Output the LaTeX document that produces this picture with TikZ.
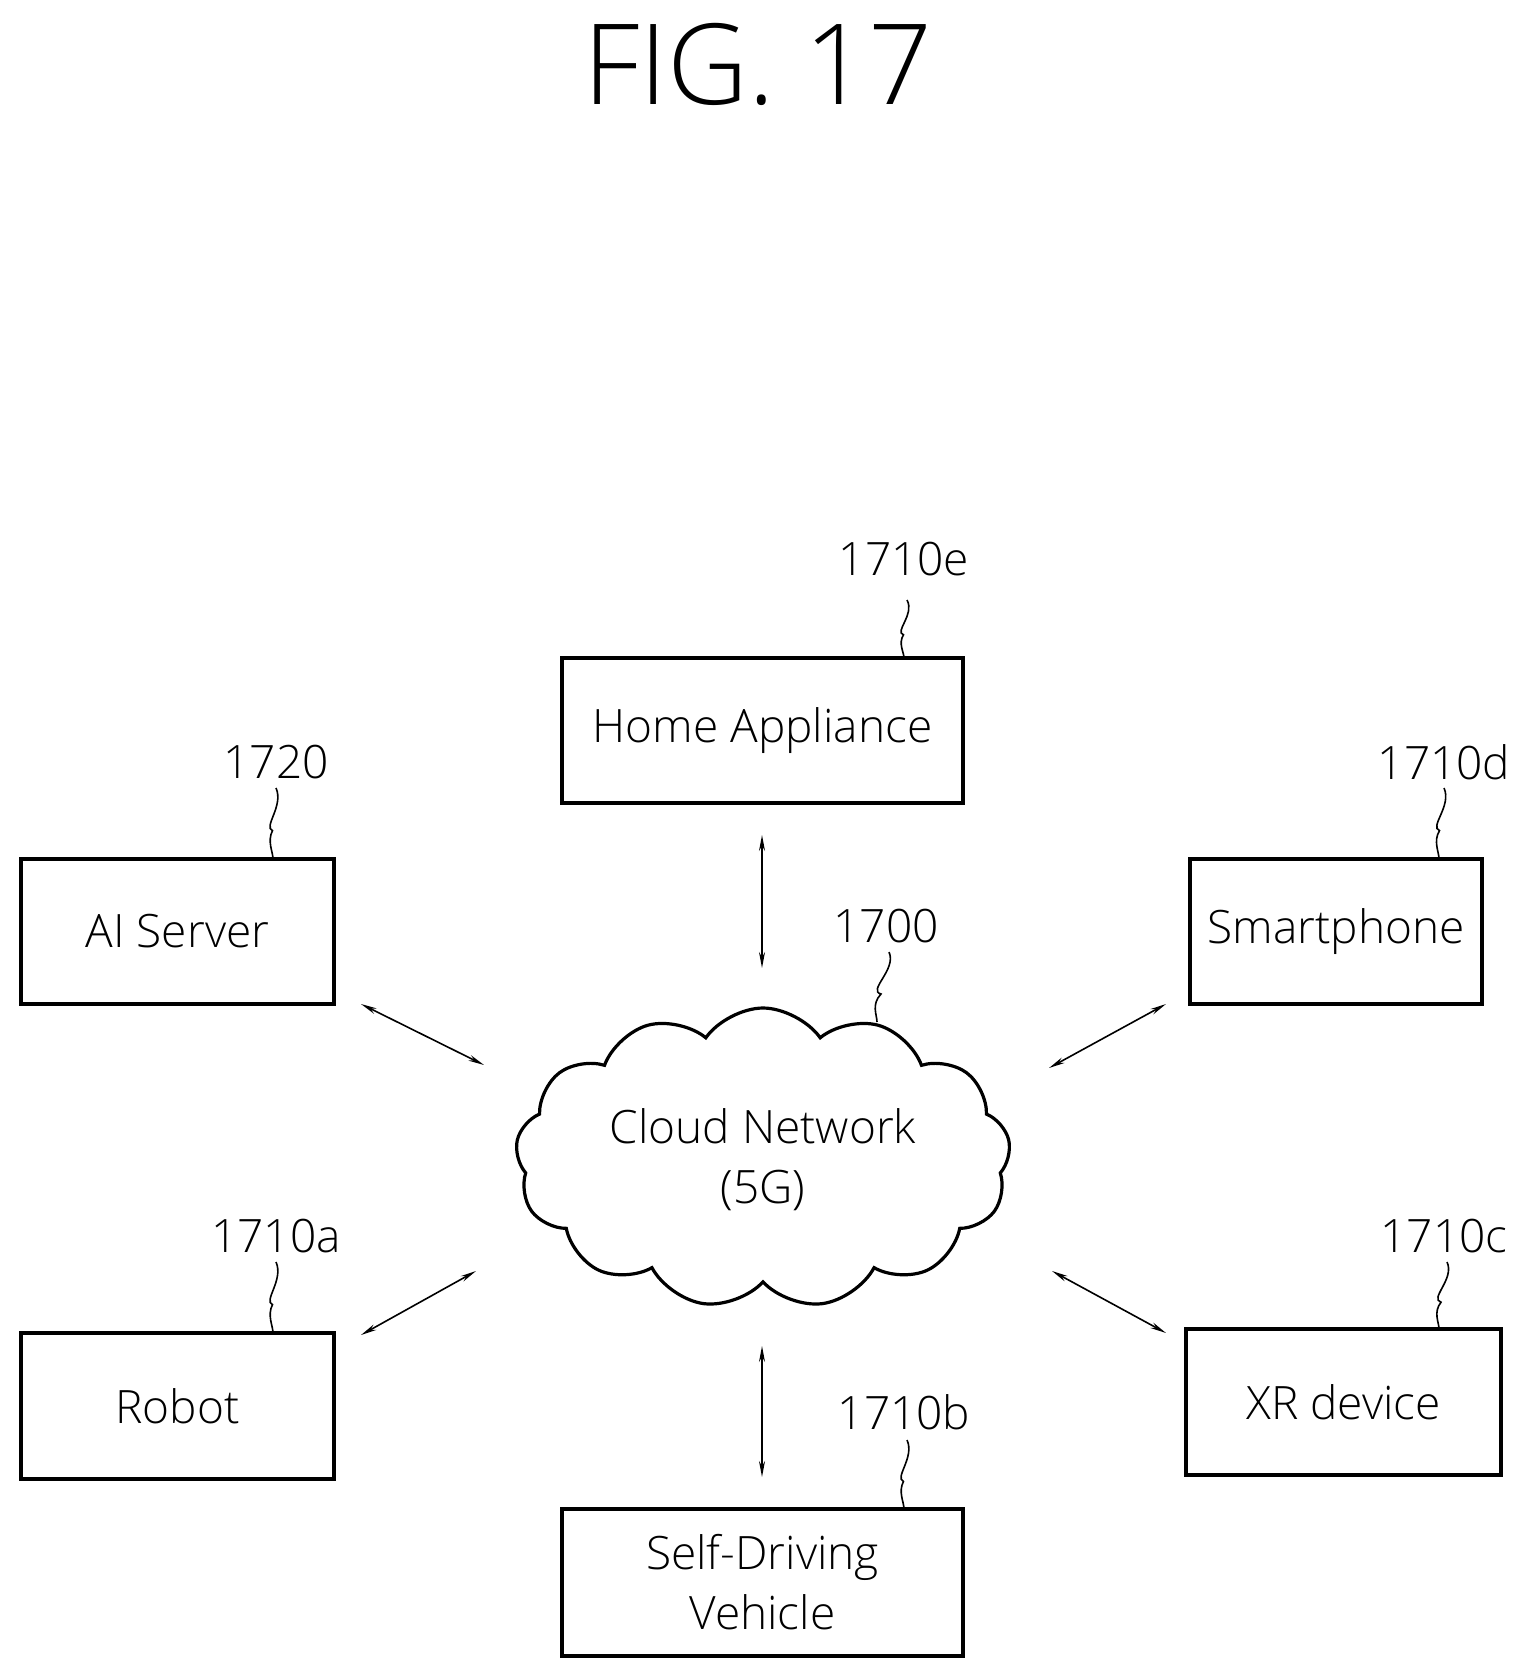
\documentclass[tikz,border=0pt]{standalone}
\usepackage{fontspec}
\setmainfont{Open Sans}[UprightFont=* Light]
\usetikzlibrary{shapes.symbols,arrows.meta}
\begin{document}
\begin{tikzpicture}[x=0.5pt,y=-0.5pt,
  box/.style={draw,line width=1.6pt,inner sep=0pt},
  lbl/.style={font=\fontsize{23}{28}\selectfont},
  btxt/.style={font=\fontsize{23}{30}\selectfont,align=center},
  con/.style={line width=0.8pt,{Stealth[length=8pt,width=3pt]}-{Stealth[length=8pt,width=3pt]}},
  sq/.style={line width=0.8pt}]
\useasboundingbox (0,0) rectangle (1522,1673);
\node[font=\fontsize{56}{60}\selectfont] (title) at (758,64) {FIG. 17};
\newcommand\mybox[6]{\draw[box] (#1,#2) rectangle (#3,#4); \node[btxt] (#5) at ({(#1+#3)/2},{(#2+#4)/2}) {#6};}
\mybox{562}{658}{963}{803}{home}{Home Appliance}
\mybox{21}{859}{334}{1004}{ai}{AI Server}
\mybox{1190}{859}{1482}{1004}{phone}{Smartphone}
\mybox{21}{1333}{334}{1479}{robot}{Robot}
\mybox{1186}{1329}{1501}{1475}{xr}{XR device}
\mybox{562}{1509}{963}{1656}{car}{Self-Driving\\Vehicle}
\node[cloud,draw,line width=1.6pt,cloud puffs=13,cloud puff arc=110,aspect=1.7,minimum width=495pt/2,minimum height=300pt/2,inner sep=0pt] (cloud) at (763,1158) {};
\node[btxt] (ctxt) at (763,1160) {Cloud Network\\(5G)};
% labels
\node[lbl] (le) at (904,559) {1710e};
\node[lbl] (l20) at (276,762) {1720};
\node[lbl] (ld) at (1444,762) {1710d};
\node[lbl] (l00) at (886,926) {1700};
\node[lbl] (la) at (276,1236) {1710a};
\node[lbl] (lb) at (904,1412) {1710b};
\node[lbl] (lc) at (1444,1236) {1710c};
\newcommand\squig[4]{\draw[sq] (#1,#2) .. controls ({#1+8},{#2+(#4-#2)*0.25}) and ({#3-10},{#2+(#4-#2)*0.55}) .. ({(#1+#3)/2-2},{#2+(#4-#2)*0.6}) .. controls ({#3-6},{#2+(#4-#2)*0.75}) and ({#3},{#2+(#4-#2)*0.9}) .. (#3,#4);}
\squig{907}{600}{904}{658}
\squig{276}{788}{273}{859}
\squig{1444}{788}{1439}{859}
\squig{889}{952}{877}{1022}
\squig{276}{1262}{273}{1333}
\squig{907}{1440}{904}{1509}
\squig{1447}{1262}{1439}{1329}
% connectors
\coordinate (a1) at (762,835); \coordinate (a2) at (762,968);
\coordinate (b1) at (762,1346); \coordinate (b2) at (762,1477);
\coordinate (c1) at (361,1004); \coordinate (c2) at (484,1065);
\coordinate (d1) at (1166,1004); \coordinate (d2) at (1049,1068);
\coordinate (e1) at (361,1335); \coordinate (e2) at (476,1271);
\coordinate (f1) at (1052,1271); \coordinate (f2) at (1166,1333);
\draw[con] (a1) -- (a2);
\draw[con] (b1) -- (b2);
\draw[con] (c1) -- (c2);
\draw[con] (d1) -- (d2);
\draw[con] (e1) -- (e2);
\draw[con] (f1) -- (f2);
\end{tikzpicture}
\end{document}
